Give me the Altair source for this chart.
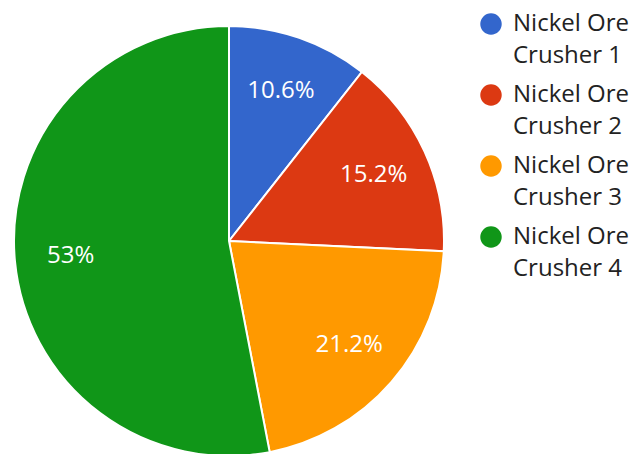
import altair as alt
import pandas as pd

categories = ["Nickel Ore Crusher 1", "Nickel Ore Crusher 2", "Nickel Ore Crusher 3", "Nickel Ore Crusher 4"]
values = [7, 10, 14, 35]
labels = ["10.6%", "15.2%", "21.2%", "53%"]
colors = ["#3366cc", "#dc3912", "#ff9900", "#109618"]

df = pd.DataFrame({"cat": categories, "val": values, "lab": labels, "ord": list(range(len(categories)))})

FONT = "Open Sans"

base = alt.Chart(df).encode(
    theta=alt.Theta("val:Q", stack=True),
    order=alt.Order("ord:Q"),
)

pie = base.mark_arc(radius=215, stroke="white", strokeWidth=2, xOffset=-90, yOffset=10).encode(
    color=alt.Color(
        "cat:N",
        scale=alt.Scale(domain=categories, range=colors),
        legend=alt.Legend(
            title=None,
            orient="none",
            legendX=471,
            legendY=4,
            symbolType="circle",
            symbolSize=460,
            symbolStrokeWidth=0,
            labelFont=FONT,
            labelFontSize=24,
            labelColor="#222222",
            labelLimit=200,
            labelExpr="['Nickel Ore', replace(datum.label, 'Nickel Ore ', '')]",
            rowPadding=15,
            labelOffset=10,
        ),
    )
)

txt = base.mark_text(radius=159, xOffset=-90, yOffset=10, font=FONT, fontSize=24, color="white").encode(
    text="lab:N"
)

chart = (
    (pie + txt)
    .properties(width=622, height=446, padding=0, autosize="none")
    .configure_view(stroke=None)
    .configure(style={"guide-label": {"lineHeight": 32}})
)

chart.save("out.html", embed_options={"renderer": "svg", "actions": False})
